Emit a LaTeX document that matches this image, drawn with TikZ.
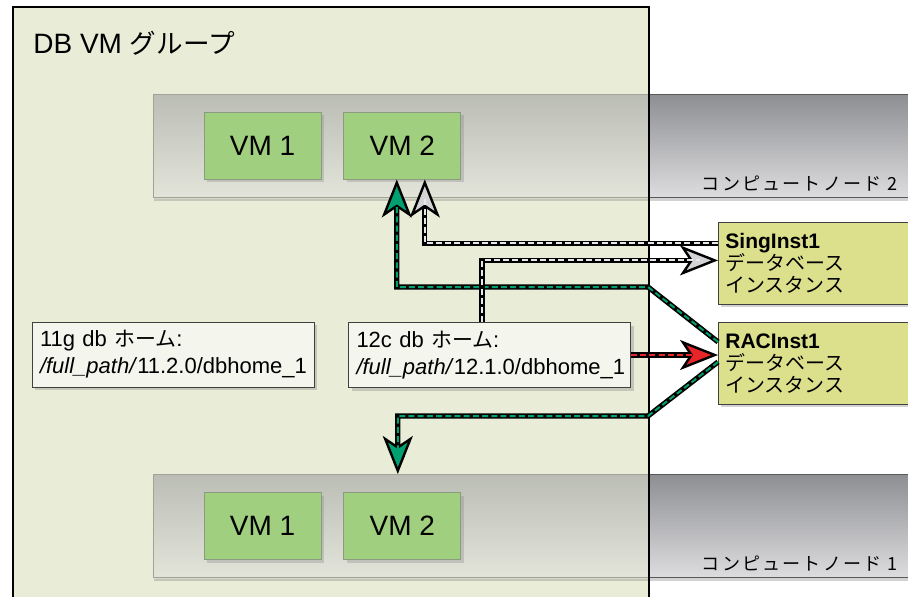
\documentclass[tikz,border=0pt]{standalone}
\usepackage{fontspec}
\setmainfont{Liberation Sans}
\newfontfamily\jp[Scale=0.95]{Noto Sans CJK JP}
\newfontfamily\jpwide[Scale=0.95, LetterSpace=12]{Noto Sans CJK JP}
\usetikzlibrary{arrows.meta,shadows,calc,positioning}

\definecolor{grpfill}{HTML}{E9EDD7}
\definecolor{vmfill}{HTML}{A0CF80}
\definecolor{vmline}{HTML}{8C9A80}
\definecolor{homefill}{HTML}{F4F6EE}
\definecolor{instfill}{HTML}{DCE08C}
\definecolor{bandtop}{HTML}{8E8F93}
\definecolor{bandbot}{HTML}{DDDDDF}
\definecolor{racgreen}{HTML}{00A070}
\definecolor{linkred}{HTML}{E8262A}
\definecolor{lightdash}{HTML}{E8E8EA}
\definecolor{tipgray}{HTML}{D4D4D6}

\tikzset{
  vmbox/.style={draw=vmline, fill=vmfill, minimum width=58.5pt, minimum height=33.5pt,
    inner sep=0pt, font=\fontsize{14}{16}\selectfont,
    drop shadow={shadow xshift=1.5pt, shadow yshift=-1.5pt, opacity=.3}},
  homebox/.style={draw=black!75, fill=homefill, text width=133pt, inner xsep=4pt,
    minimum height=32.5pt, align=left, font=\fontsize{11}{13.5}\selectfont,
    drop shadow={shadow xshift=1.5pt, shadow yshift=-1.5pt, opacity=.35}},
  instbox/.style={draw=black!75, fill=instfill, anchor=north west, text width=100pt,
    inner xsep=3.5pt, minimum height=41pt, align=left, font=\fontsize{10.5}{11}\selectfont,
    drop shadow={shadow xshift=1.5pt, shadow yshift=-1.5pt, opacity=.35}},
  band/.style={top color=bandtop, bottom color=bandbot, draw=black!65, line width=.6pt,
    anchor=north west, minimum width=379.5pt, minimum height=51.5pt, inner sep=0pt,
    drop shadow={shadow xshift=0pt, shadow yshift=-1.5pt, opacity=.35}},
  bandlabel/.style={anchor=south east, inner sep=0pt, font=\jpwide\fontsize{9.5}{10}\selectfont},
  link/.style 2 args={draw=black, line width=2.6pt,
    -{Stealth[length=19pt, width=15pt, inset=5pt, line width=1.2pt, fill=#2]},
    postaction={draw=#1, line width=1pt, dash pattern=on 3pt off 1.6pt, -, shorten >=9pt}}
}

\begin{document}
\begin{tikzpicture}[x=0.5pt, y=-0.5pt]
  \clip (0,0) rectangle (908,596);
  \fill[white] (0,0) rectangle (908,596);

  % group
  \node[fill=grpfill, anchor=north west, minimum width=317.5pt, minimum height=306.5pt,
    inner sep=0pt] (grp) at (13,7) {};
  \node[anchor=base west, inner sep=0pt, font=\fontsize{14}{16}\selectfont] (grptitle) at (33,53)
    {DB VM {\jp グループ}};

  % compute nodes
  \node[band] (cn2) at (153,94) {};
  \node[band] (cn1) at (153,474) {};
  \fill[grpfill, opacity=.5] ([yshift=.3pt]cn2.north west) rectangle ([yshift=-.3pt]cn2.south -| grp.east);
  \fill[grpfill, opacity=.5] ([yshift=.3pt]cn1.north west) rectangle ([yshift=-.3pt]cn1.south -| grp.east);
  \node[bandlabel] (lbl2) at ([xshift=-7.5pt, yshift=3.5pt]cn2.south east) {コンピュートノード 2};
  \node[bandlabel] (lbl1) at ([xshift=-7.5pt, yshift=3.5pt]cn1.south east) {コンピュートノード 1};
  \draw[line width=1.2pt] (grp.south west) -- (grp.north west) -- (grp.north east) -- (grp.south east);

  % virtual machines
  \node[vmbox] (vm1a) at (262.5,145.5) {VM 1};
  \node[vmbox, right=11pt of vm1a] (vm2a) {VM 2};
  \node[vmbox] (vm1b) at (262.5,526) {VM 1};
  \node[vmbox, right=11pt of vm1b] (vm2b) {VM 2};

  % database homes
  \node[homebox] (home11) at (173,354.5) {11g db {\jp ホーム}:\\\textit{/full\_path/}11.2.0/dbhome\_1};
  \node[homebox] (home12) at (489.5,355) {12c db {\jp ホーム}:\\\textit{/full\_path/}12.1.0/dbhome\_1};

  % instances
  \node[instbox] (sing) at (718,222) {\textbf{SingInst1}\\{\jp データベース}\\{\jp インスタンス}};
  \node[instbox] (rac) at (718,322) {\textbf{RACInst1}\\{\jp データベース}\\{\jp インスタンス}};

  % links
  \coordinate (up1) at (648,287);
  \coordinate (dn1) at (648,416);
  \draw[link={racgreen}{racgreen}] ([yshift=10.75pt]rac.west) -- (up1) -| ([xshift=-2.75pt]vm2a.south);
  \draw[link={racgreen}{racgreen}] ([yshift=.75pt]rac.west) -- (dn1) -| ($(vm2b.north |- cn1.north)+(-4.5,0)$);
  \draw[link={lightdash}{tipgray}] ([yshift=10pt]sing.west) -| ([xshift=11.25pt]vm2a.south);
  \draw[link={lightdash}{tipgray}] ([xshift=-3.75pt]home12.north) |- ([yshift=1.5pt]sing.west);
  \draw[link={linkred}{linkred}] (home12.east) -- (home12.east -| rac.west);
\end{tikzpicture}
\end{document}
